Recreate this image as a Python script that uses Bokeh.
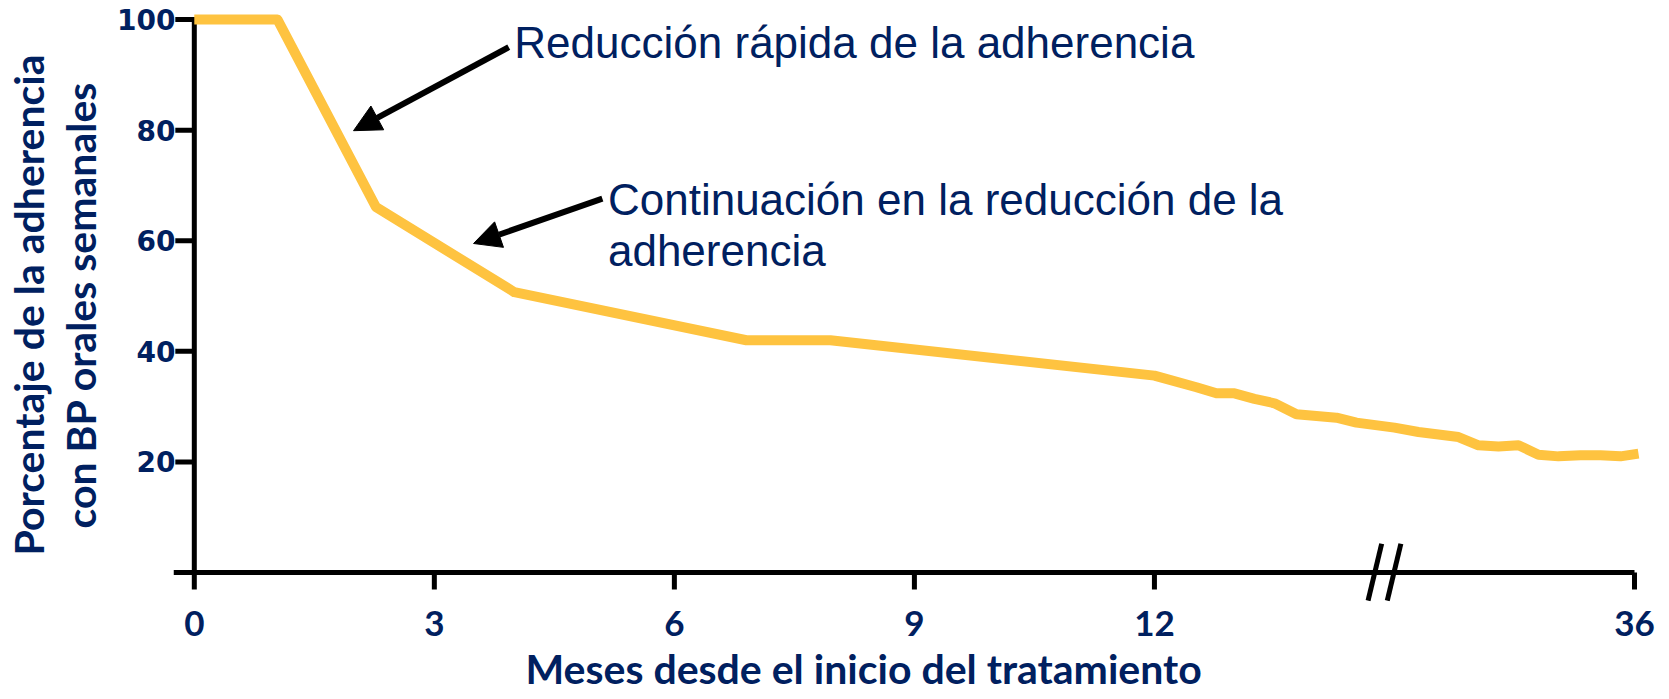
from bokeh.plotting import figure
from bokeh.models import (Range1d, FixedTicker, Label, Arrow, NormalHead, Title)
from bokeh.embed import file_html
from bokeh.resources import INLINE

# ---------------- data ----------------
months = [0, 1.04, 2.27, 4.0, 6.9, 7.95, 12.0, 14.1, 15.1, 16.0, 17.0, 18.0, 19.1,
          21.1, 22.1, 24.0, 25.2, 27.2, 28.2, 29.2, 30.2, 31.2, 32.2, 33.3, 34.3, 35.3, 36.2]
adherence = [100, 100, 66.1, 50.7, 42.0, 42.0, 35.6, 33.5, 32.4, 32.4, 31.4, 30.6, 28.6,
             28.0, 27.1, 26.2, 25.4, 24.5, 23.0, 22.8, 23.0, 21.3, 21.0, 21.2, 21.2, 21.0, 21.5]
x_tick_months = [0, 3, 6, 9, 12, 36]
y_ticks = [20, 40, 60, 80, 100]
x_title = "Meses desde el inicio del tratamiento"
y_title = "Porcentaje de la adherencia\ncon BP orales semanales"
note1 = "Reducción rápida de la adherencia"
note2 = ["Continuación en la reducción de la", "adherencia"]
break_month = 23.5

NAVY = "#002060"
GOLD = "#FEC340"

BREAK_AT = 12.0
COMPRESS = 0.25   # months after the axis break are drawn 4x compressed


def to_u(m):
    return m if m <= BREAK_AT else BREAK_AT + (m - BREAK_AT) * COMPRESS


xs = [to_u(m) for m in months]
x_tick_u = [to_u(m) for m in x_tick_months]

X0, X1 = -0.26, 18.3
Y0, Y1 = -5.25, 102
FW, FH = 1485, 593
PX_X = FW / (X1 - X0)
PX_Y = FH / (Y1 - Y0)

p = figure(frame_width=FW, frame_height=FH,
           min_border_left=173, min_border_right=3, min_border_top=8, min_border_bottom=98,
           x_range=Range1d(X0, X1), y_range=Range1d(Y0, Y1),
           output_backend="svg", toolbar_location=None)
p.outline_line_color = None
p.xgrid.visible = False
p.ygrid.visible = False

# ---------------- axis lines & ticks (drawn in data space) ----------------
AX = dict(line_color="black", line_width=5)
p.segment(x0=[X0], y0=[0], x1=[to_u(36)], y1=[0], **AX)
p.segment(x0=[0], y0=[0], x1=[0], y1=[100], line_cap="square", **AX)
p.segment(x0=x_tick_u, y0=[0] * len(x_tick_u), x1=x_tick_u,
          y1=[-17 / PX_Y] * len(x_tick_u), **AX)
p.segment(x0=[0] * len(y_ticks), y0=y_ticks, x1=[-19 / PX_X] * len(y_ticks),
          y1=y_ticks, **AX)

# axis break marks
ub = to_u(break_month)
bx0 = [ub - 0.12 - 0.085, ub + 0.12 - 0.085]
bx1 = [ub - 0.12 + 0.085, ub + 0.12 + 0.085]
p.segment(x0=bx0, y0=[-5.1, -5.1], x1=bx1, y1=[5.2, 5.2], **AX)

# ---------------- data line ----------------
p.line(xs, adherence, line_color=GOLD, line_width=10, line_join="round")

# ---------------- axes (labels) ----------------
xa = p.xaxis[0]
xa.ticker = FixedTicker(ticks=x_tick_u)
overrides = {}
for m, u in zip(x_tick_months, x_tick_u):
    key = int(u) if float(u).is_integer() else u
    overrides[key] = str(m)
xa.major_label_overrides = overrides
xa.axis_line_color = None
xa.major_tick_line_color = None
xa.minor_tick_line_color = None
xa.major_tick_out = 0
xa.major_tick_in = 0
xa.major_label_standoff = 9
xa.major_label_text_font = "Lato"
xa.major_label_text_font_style = "bold"
xa.major_label_text_font_size = "35px"
xa.major_label_text_color = NAVY

ya = p.yaxis[0]
ya.ticker = FixedTicker(ticks=y_ticks)
ya.bounds = (0, 100)
ya.axis_line_color = None
ya.major_tick_line_color = None
ya.minor_tick_line_color = None
ya.major_tick_out = 0
ya.major_tick_in = 0
ya.major_label_standoff = -2
ya.major_label_text_font = "DejaVu Sans"
ya.major_label_text_font_style = "bold"
ya.major_label_text_font_size = "28px"
ya.major_label_text_color = NAVY
ya.axis_label = y_title
ya.axis_label_standoff = 9
ya.axis_label_text_font = "Lato"
ya.axis_label_text_font_style = "bold"
ya.axis_label_text_font_size = "41px"
ya.axis_label_text_line_height = 1.06
ya.axis_label_text_color = NAVY

p.add_layout(Title(text=x_title, align="left", offset=352, standoff=6,
                   vertical_align="bottom", text_font="Lato", text_font_style="bold",
                   text_font_size="41px", text_color=NAVY), "below")

# ---------------- annotations ----------------
arrow_starts = [(3.93, 95.0), (5.10, 67.6)]
arrow_ends = [(1.99, 79.9), (3.49, 59.5)]
for (x0, y0), (x1, y1) in zip(arrow_starts, arrow_ends):
    p.add_layout(Arrow(x_start=x0, y_start=y0, x_end=x1, y_end=y1,
                       line_width=6, line_color="black",
                       end=NormalHead(size=27, fill_color="black", line_color="black")))

p.add_layout(Label(x=4.0, y=95.8, text=note1, text_baseline="middle",
                   text_font="Liberation Sans", text_font_size="44px", text_color=NAVY))
for yb, line in zip([67.4, 58.3], note2):
    p.add_layout(Label(x=5.17, y=yb, text=line, text_baseline="middle",
                       text_font="Liberation Sans", text_font_size="44px",
                       text_color=NAVY))

open("out.html", "w").write(file_html(p, INLINE))
